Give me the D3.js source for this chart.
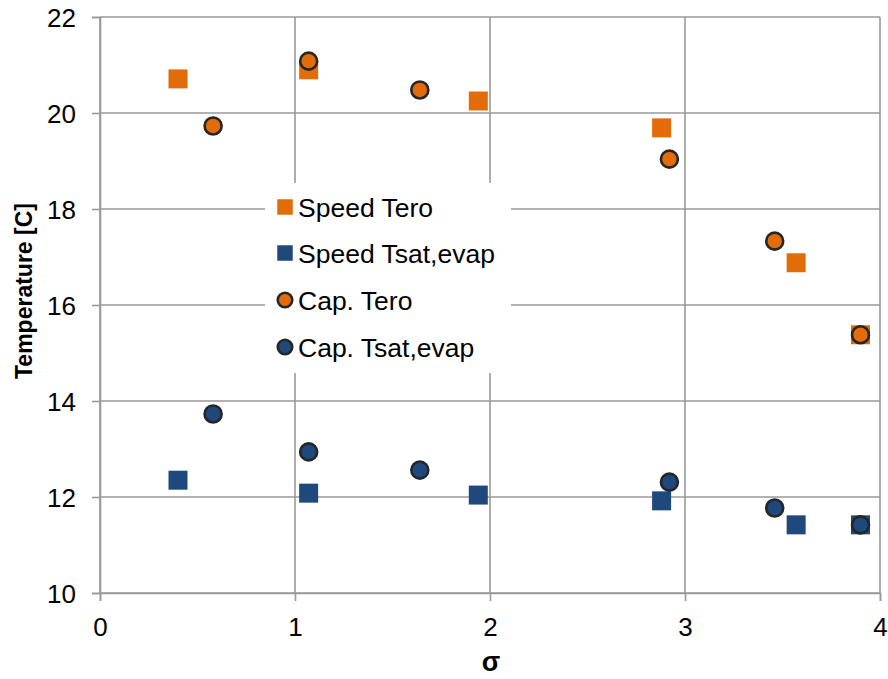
<!DOCTYPE html>
<html>
<head>
<meta charset="utf-8">
<script src="https://cdn.jsdelivr.net/npm/d3@7"></script>
<style>
  html, body { margin: 0; padding: 0; background: #fff; }
  svg { display: block; font-family: "Liberation Sans", Arial, Helvetica, sans-serif; }
</style>
</head>
<body>
<svg id="chart" width="888" height="679"></svg>
<script>
// σ positions and measured temperatures [°C]
const speedSigma = [0.40, 1.07, 1.94, 2.88, 3.57, 3.90];
const speedTero = [20.71, 20.90, 20.25, 19.69, 16.88, 15.38];
const speedTsat = [12.35, 12.08, 12.04, 11.92, 11.42, 11.42];

const capSigma = [0.58, 1.07, 1.64, 2.92, 3.46, 3.90];
const capTero = [19.73, 21.08, 20.48, 19.04, 17.33, 15.38];
const capTsat = [13.73, 12.94, 12.56, 12.31, 11.77, 11.42];

const xTicks = [0, 1, 2, 3, 4];
const yTicks = [10, 12, 14, 16, 18, 20, 22];

const seriesNames = ["Speed Tero", "Speed Tsat,evap", "Cap. Tero", "Cap. Tsat,evap"];

const ORANGE = "#E36C0A";
const BLUE = "#1F497D";
const GRID = "#999999";

const series = [
  { name: seriesNames[0], xs: speedSigma, ys: speedTero, shape: "square", color: ORANGE },
  { name: seriesNames[1], xs: speedSigma, ys: speedTsat, shape: "square", color: BLUE },
  { name: seriesNames[2], xs: capSigma, ys: capTero, shape: "circle", color: ORANGE },
  { name: seriesNames[3], xs: capSigma, ys: capTsat, shape: "circle", color: BLUE }
];

const svg = d3.select("#chart");
const x = d3.scaleLinear().domain([0, 4]).range([100, 880]);
const y = d3.scaleLinear().domain([10, 22]).range([593, 17]);

// gridlines
const grid = svg.append("g");
grid.selectAll("line.h").data(yTicks).join("line")
  .attr("x1", x(0)).attr("x2", x(4))
  .attr("y1", d => y(d)).attr("y2", d => y(d))
  .attr("stroke", GRID).attr("stroke-width", 1.6);
grid.selectAll("line.v").data(xTicks).join("line")
  .attr("x1", d => x(d)).attr("x2", d => x(d))
  .attr("y1", y(10)).attr("y2", y(22))
  .attr("stroke", GRID).attr("stroke-width", 1.6);

// axes
const xAxis = svg.append("g").attr("transform", `translate(0,${y(10)})`)
  .call(d3.axisBottom(x).tickValues(xTicks).tickFormat(d3.format("d")).tickSize(8).tickPadding(17));
const yAxis = svg.append("g").attr("transform", `translate(${x(0)},0)`)
  .call(d3.axisLeft(y).tickValues(yTicks).tickFormat(d3.format("d")).tickSize(8).tickPadding(16));
[xAxis, yAxis].forEach(a => {
  a.select(".domain").attr("stroke", GRID).attr("stroke-width", 1.6);
  a.selectAll(".tick line").attr("stroke", GRID).attr("stroke-width", 1.6);
  a.selectAll(".tick text").attr("fill", "#000").style("font-size", "26px")
    .style("font-family", "'Liberation Sans', Arial, sans-serif");
});
yAxis.selectAll(".tick text").attr("dy", "0.36em");

// axis titles
svg.append("text")
  .attr("x", x(2) + 1).attr("y", 671)
  .attr("text-anchor", "middle")
  .style("font-size", "27px").style("font-weight", "bold")
  .text("σ");
svg.append("text")
  .attr("transform", `translate(32,${291}) rotate(-90)`)
  .attr("text-anchor", "middle")
  .style("font-size", "23px").style("font-weight", "bold")
  .text("Temperature [C]");

// markers
function drawMarker(g, shape, color, size) {
  if (shape === "square") {
    g.append("rect")
      .attr("x", -size / 2).attr("y", -size / 2)
      .attr("width", size).attr("height", size)
      .attr("fill", color);
  } else {
    g.append("circle")
      .attr("r", size / 2)
      .attr("fill", color)
      .attr("stroke", "#262626").attr("stroke-width", 2.6);
  }
}

const marks = svg.append("g");
series.forEach(s => {
  const pts = s.xs.map((v, i) => [v, s.ys[i]]);
  marks.append("g").selectAll("g").data(pts).join("g")
    .attr("transform", d => `translate(${x(d[0])},${y(d[1])})`)
    .each(function() { drawMarker(d3.select(this), s.shape, s.color, s.shape === "square" ? 19 : 17); });
});

// legend
const legend = svg.append("g");
legend.append("rect")
  .attr("x", 265).attr("y", 183).attr("width", 246).attr("height", 190)
  .attr("fill", "#fff");
const rowY = [207, 253, 300, 347];
series.forEach((s, i) => {
  const row = legend.append("g").attr("transform", `translate(285,${rowY[i]})`);
  drawMarker(row, s.shape, s.color, s.shape === "square" ? 15.5 : 14.5);
  row.append("text")
    .attr("x", 13).attr("y", 0).attr("dy", "0.36em")
    .style("font-size", "26.5px")
    .text(s.name);
});
</script>
</body>
</html>
